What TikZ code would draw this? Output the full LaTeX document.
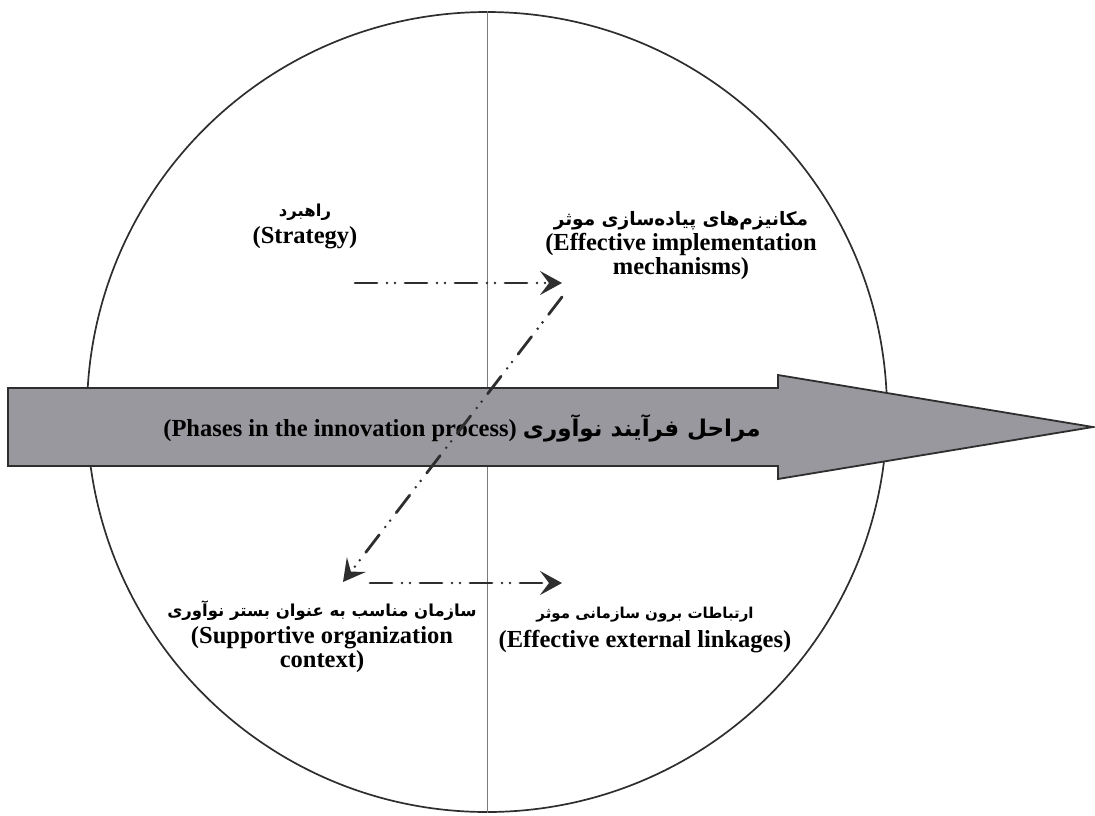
\documentclass[tikz,border=0pt]{standalone}
\usepackage{fontspec}
\setmainfont{Liberation Serif}
\newfontfamily\farsi[Script=Arabic]{DejaVu Sans}
\TeXXeTstate=1
\usetikzlibrary{arrows.meta,positioning}
\definecolor{ink}{HTML}{2E2E2E}
\definecolor{shaft}{HTML}{98989E}
\definecolor{axis}{HTML}{7A7A7A}
\newcommand{\fa}[2][16.5]{{\farsi\bfseries\fontsize{#1}{22}\selectfont\beginR #2\endR}}

\begin{document}
\begin{tikzpicture}[x=1pt,y=-1pt,
  phase/.style={align=center,inner sep=0pt,
    font=\bfseries\fontsize{24.5}{24}\selectfont},
  flow/.style={line width=2.8pt,ink,line cap=round,
    dash pattern=on 22pt off 10pt on 0pt off 8pt on 0pt off 10pt,
    -{Stealth[length=22pt,width=24pt,inset=9pt]}}]
\useasboundingbox (0,0) rectangle (1095,815);
\node[circle,draw=ink,line width=1.7pt,minimum size=800pt,inner sep=0pt] (ring) at (487,412) {};
\draw[axis,line width=1pt] (ring.north) -- (ring.south);
% the process arrow
\draw[ink,line width=1.8pt,fill=shaft] (8,388) -- (778,388) -- (778,375) -- (1093,427)
  -- (778,479) -- (778,466) -- (8,466) -- cycle;
\node[phase] (phases) at (462,428)
  {\beginR\fa[23]{مراحل فرآیند نوآوری} \beginL(Phases in the innovation process)\endL\endR};
% the four parts
\node[phase] (strategy) at (305,226) {\fa{راهبرد}\\[3pt](Strategy)};
\node[phase] (mechanisms) at (681,246)
  {\fa[18.5]{مکانیزم‌های پیاده‌سازی موثر}\\[1pt](Effective implementation\\mechanisms)};
\node[phase] (context) at (322,637)
  {\fa{سازمان مناسب به عنوان بستر نوآوری}\\[3pt](Supportive organization\\context)};
\node[phase] (linkages) at (645,630)
  {\fa[15]{ارتباطات برون سازمانی موثر}\\[5pt](Effective external linkages)};
% links between them
\coordinate (s-out) at (355,283);
\coordinate (m-in) at (562,283);
\coordinate (m-out) at (562,297);
\coordinate (c-in) at (343,582);
\coordinate (c-out) at (370,583);
\coordinate (l-in) at (562,583);
\draw[flow] (s-out) -- (m-in);
\draw[flow] (m-out) -- (c-in);
\draw[flow] (c-out) -- (l-in);
\end{tikzpicture}
\end{document}
